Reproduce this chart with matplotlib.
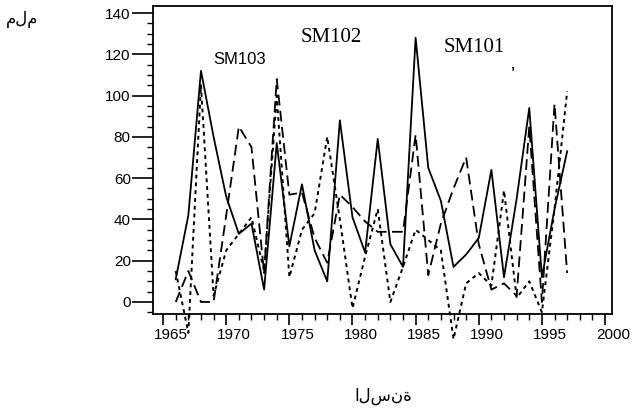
import numpy as np
import matplotlib.pyplot as plt
import matplotlib.transforms as mtransforms
from matplotlib.ticker import MultipleLocator

plt.rcParams['font.family'] = ['Liberation Sans', 'DejaVu Sans']

years = list(range(1966, 1998))

# solid line
solid = [11, 42, 112, 80, 51, 33, 38, 6, 77, 27, 57, 25, 10, 88, 41, 24,
         79, 28, 17, 128, 65, 49, 17, 23, 31, 64, 12, 50, 94, 12, 45, 73]
# long dashes
dashed = [0, 15, 0, 0, 42, 85, 75, 14, 108, 52, 53, 31, 19, 52, 46, 39,
          34, 34, 34, 81, 13, 38, 55, 70, 28, 6, 9, 3, 85, 0, 96, 14]
# short dashes
dotted = [15, -15, 105, 3, 25, 33, 41, 15, 100, 12, 35, 43, 80, 40, -3, 22,
          45, 0, 17, 35, 30, 25, -18, 9, 14, 8, 54, 2, 10, -5, 45, 102]

x_ticks = [1965, 1970, 1975, 1980, 1985, 1990, 1995, 2000]
y_ticks = [0, 20, 40, 60, 80, 100, 120, 140]

fig = plt.figure(figsize=(6.38, 4.12), dpi=100)
ax = fig.add_axes([0.2398, 0.238, 0.7194, 0.7474])

ax.plot(years, solid, color='black', lw=1.3, clip_on=False)
ax.plot(years, dashed, color='black', lw=1.3, linestyle=(0, (6, 3)), clip_on=False)
ax.plot(years, dotted, color='black', lw=1.4, linestyle=(0, (2, 2)), clip_on=False)

ax.set_xlim(1964.2, 2000.55)
ax.set_ylim(-5.8, 143.4)
ax.set_xticks(x_ticks)
ax.set_yticks(y_ticks)
ax.xaxis.set_minor_locator(MultipleLocator(1))
ax.yaxis.set_minor_locator(MultipleLocator(5))
ax.tick_params(axis='both', which='major', direction='out', labelsize=11, width=1.2)
ax.tick_params(axis='x', which='major', length=8, pad=2)
ax.tick_params(axis='y', which='major', length=15, pad=1)
ax.tick_params(axis='both', which='minor', direction='out', length=4, width=1)
for sp in ax.spines.values():
    sp.set_linewidth(1.3)

# the scanned x labels sit a little right of their ticks
shift = mtransforms.ScaledTranslation(8 / 100, 0, fig.dpi_scale_trans)
for lab in ax.get_xticklabels():
    lab.set_transform(lab.get_transform() + shift)

# series names, placed in pixel coords (from top)
fig.text(240 / 638, 1 - 60 / 412, 'SM103', fontsize=12, ha='center', va='center')
fig.text(331 / 638, 1 - 37 / 412, 'SM102', fontsize=15, ha='center', va='center',
         family='Liberation Serif')
fig.text(474 / 638, 1 - 48 / 412, 'SM101', fontsize=15, ha='center', va='center',
         family='Liberation Serif')
fig.text(512 / 638, 1 - 72 / 412, '\u2019', fontsize=10, fontweight='bold',
         ha='center', va='center')

fig.text(22 / 638, 1 - 19 / 412, 'ملم', fontsize=12, ha='center', va='center',
         family=['Noto Sans', 'DejaVu Sans'])
fig.text(383 / 638, 1 - 396 / 412, 'السنة', fontsize=12, ha='center', va='center',
         family=['Noto Sans', 'DejaVu Sans'])

fig.savefig('out.png', dpi=100)
